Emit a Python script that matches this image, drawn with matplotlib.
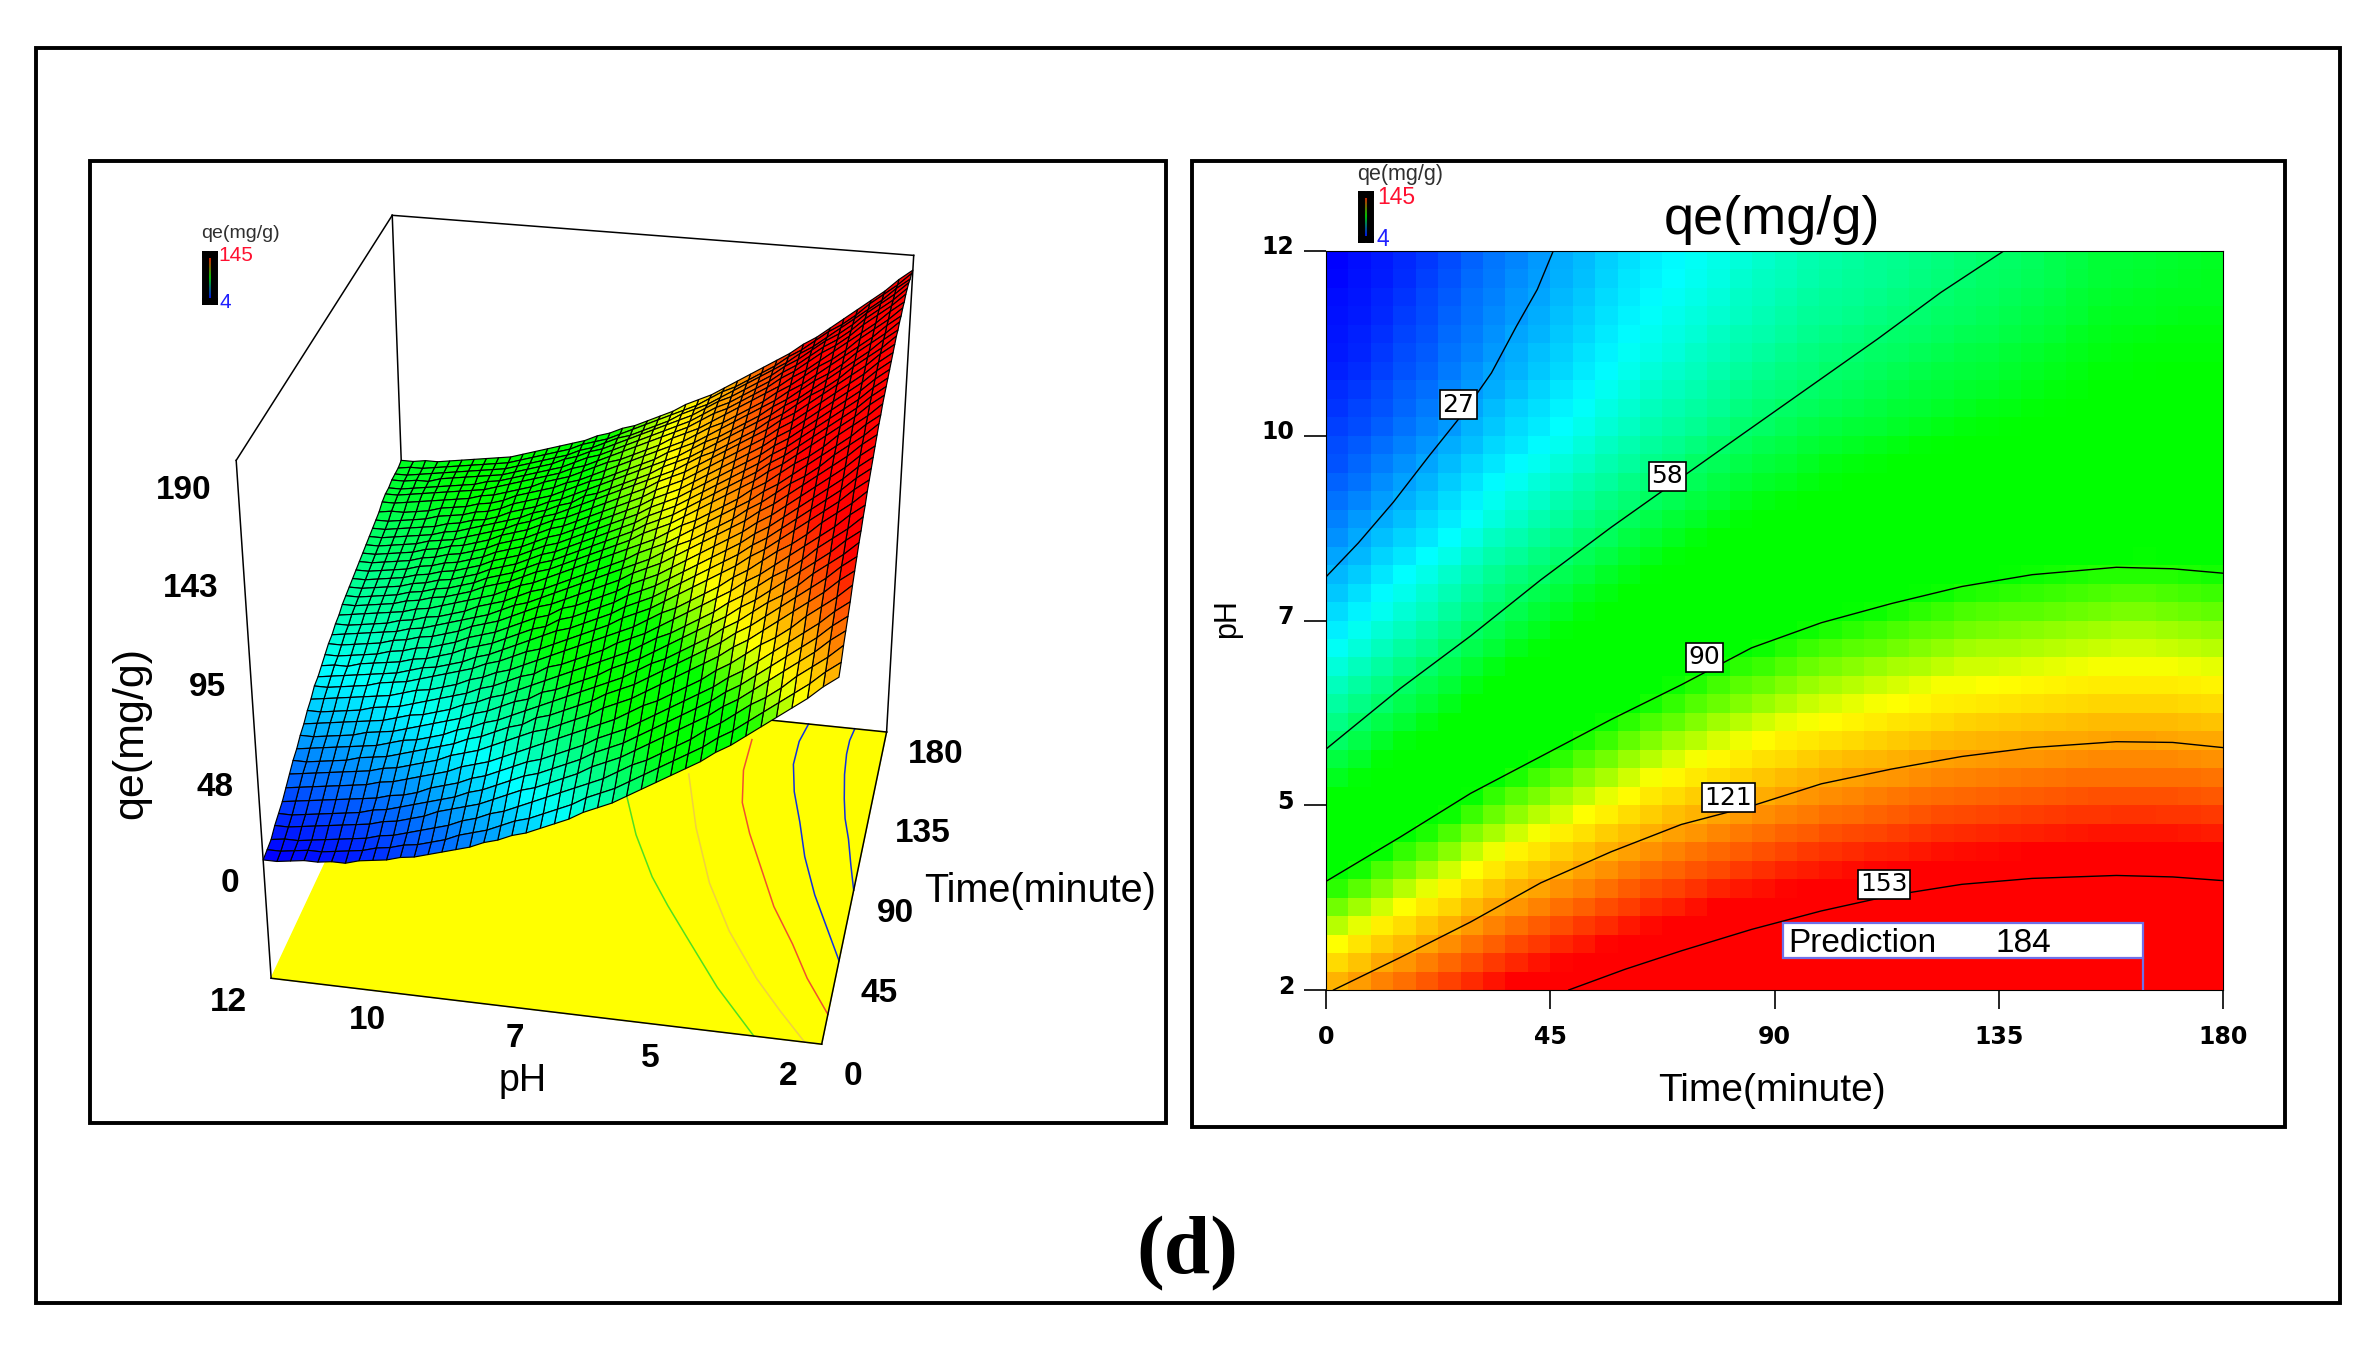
import numpy as np
import matplotlib
matplotlib.use('Agg')
import matplotlib.pyplot as plt
from matplotlib.collections import PolyCollection
from matplotlib.colors import LinearSegmentedColormap, Normalize
from matplotlib.patches import Rectangle
from matplotlib.transforms import ScaledTranslation

plt.rcParams['font.family'] = ['Liberation Sans', 'DejaVu Sans']

# Values
time_vals = [i * 4.5 for i in range(41)]
ph_vals = [2 + i * 0.25 for i in range(41)]

# one row per pH, one column per time
qe_rows = [
    [120,123,127,130,133,136,140,143,146,149,151,154,156,159,161,163,165,167,169,171,172,174,175,176,177,178,179,180,181,182,182,183,183,184,184,185,185,185,184,184,183],
    [115,118,121,125,128,131,134,138,141,143,146,148,151,153,156,158,160,162,164,165,167,168,170,171,172,173,174,175,176,176,177,177,178,178,179,179,179,179,179,178,178],
    [109,112,116,119,122,125,129,132,135,138,140,143,145,148,150,152,154,156,158,160,161,163,164,165,166,167,168,169,170,171,171,172,172,173,173,174,174,174,173,173,172],
    [104,107,111,114,117,120,124,127,130,133,135,138,140,143,145,147,149,151,153,155,156,158,159,160,161,162,163,164,165,166,166,167,167,168,168,169,169,169,168,168,167],
    [99,102,105,109,112,115,118,122,125,127,130,132,135,137,140,142,144,146,148,149,151,152,154,155,156,157,158,159,160,160,161,161,162,162,163,163,163,163,163,162,162],
    [94,97,100,104,107,110,113,117,120,122,125,127,130,132,135,137,139,141,143,144,146,147,149,150,151,152,153,154,155,155,156,156,157,157,158,158,158,158,158,157,157],
    [89,92,96,99,102,105,109,112,115,118,120,123,125,128,130,132,134,136,138,140,141,143,144,145,146,147,148,149,150,151,151,152,152,153,153,154,154,154,153,153,152],
    [84,87,91,94,97,100,104,107,110,113,115,118,120,123,125,127,129,131,133,135,136,138,139,140,141,142,143,144,145,146,146,147,147,148,148,149,149,149,148,148,147],
    [80,83,86,90,93,96,99,103,106,108,111,113,116,118,121,123,125,127,129,130,132,133,135,136,137,138,139,140,141,141,142,142,143,143,144,144,144,144,144,143,143],
    [75,78,82,85,88,91,95,98,101,104,106,109,111,114,116,118,120,122,124,126,127,129,130,131,132,133,134,135,136,137,137,138,138,139,139,140,140,140,139,139,138],
    [71,74,77,81,84,87,90,94,97,99,102,104,107,109,112,114,116,118,120,121,123,124,126,127,128,129,130,131,132,132,133,133,134,134,135,135,135,135,135,134,134],
    [67,70,73,77,80,83,86,90,93,95,98,100,103,105,108,110,112,114,116,117,119,120,122,123,124,125,126,127,128,128,129,129,130,130,131,131,131,131,131,130,130],
    [63,66,69,73,76,79,82,86,89,91,94,96,99,101,104,106,108,110,112,113,115,116,118,119,120,121,122,123,124,124,125,125,126,126,127,127,127,127,127,126,126],
    [59,62,65,69,72,75,78,82,85,87,90,92,95,97,100,102,104,106,108,109,111,112,114,115,116,117,118,119,120,120,121,121,122,122,123,123,123,123,123,122,122],
    [55,58,62,65,68,71,75,78,81,84,86,89,91,94,96,98,100,102,104,106,107,109,110,111,112,113,114,115,116,117,117,118,118,119,119,120,120,120,119,119,118],
    [51,54,58,61,64,67,71,74,77,80,82,85,87,90,92,94,96,98,100,102,103,105,106,107,108,109,110,111,112,113,113,114,114,115,115,116,116,116,115,115,114],
    [48,51,54,58,61,64,67,71,74,76,79,81,84,86,89,91,93,95,97,98,100,101,103,104,105,106,107,108,109,109,110,110,111,111,112,112,112,112,112,111,111],
    [45,48,51,55,58,61,64,68,71,73,76,78,81,83,86,88,90,92,94,95,97,98,100,101,102,103,104,105,106,106,107,107,108,108,109,109,109,109,109,108,108],
    [41,44,48,51,54,57,61,64,67,70,72,75,77,80,82,84,86,88,90,92,93,95,96,97,98,99,100,101,102,103,103,104,104,105,105,106,106,106,105,105,104],
    [38,41,45,48,51,54,58,61,64,67,69,72,74,77,79,81,83,85,87,89,90,92,93,94,95,96,97,98,99,100,100,101,101,102,102,103,103,103,102,102,101],
    [35,38,42,45,48,51,55,58,61,64,66,69,71,74,76,78,80,82,84,86,87,89,90,91,92,93,94,95,96,97,97,98,98,99,99,100,100,100,99,99,98],
    [32,35,39,42,45,48,52,55,58,61,63,66,68,71,73,75,77,79,81,83,84,86,87,88,89,90,91,92,93,94,94,95,95,96,96,97,97,97,96,96,95],
    [30,33,36,40,43,46,49,53,56,58,61,63,66,68,70,73,75,77,78,80,81,83,84,85,86,87,88,89,90,91,91,92,92,93,94,94,94,94,94,93,93],
    [27,30,33,37,40,43,46,50,52,55,57,60,62,65,67,70,71,73,75,77,78,80,81,82,83,84,85,86,87,88,89,89,90,90,91,91,91,91,91,90,90],
    [25,27,31,34,37,40,43,47,50,52,55,57,60,62,65,67,69,71,73,74,75,77,78,79,80,81,82,83,84,85,85,86,87,87,88,88,89,89,88,88,88],
    [22,25,28,31,34,37,40,44,47,49,52,54,57,59,62,64,66,68,70,71,73,74,76,77,78,79,80,81,82,82,83,83,84,85,85,86,86,86,86,86,85],
    [20,23,26,29,32,35,38,41,44,47,49,52,54,57,59,61,63,65,67,69,70,72,73,74,75,76,77,78,79,80,80,81,81,82,83,83,83,84,83,83,83],
    [18,20,23,27,29,32,36,39,42,44,47,49,52,54,57,58,60,62,64,66,67,69,70,71,72,73,74,75,76,77,78,78,79,80,81,81,81,81,81,81,81],
    [16,18,21,25,27,30,33,37,39,42,44,47,49,52,54,56,58,60,62,63,65,66,68,69,70,71,72,73,74,75,75,76,77,78,78,79,79,79,79,79,79],
    [14,16,19,22,25,28,31,34,37,39,42,44,47,49,52,53,56,58,60,61,63,64,66,67,68,69,70,71,72,72,73,74,75,76,76,77,77,77,77,77,77],
    [13,15,17,20,23,25,29,32,35,37,40,42,45,47,50,51,53,55,57,59,60,62,63,64,65,66,67,68,69,70,71,71,72,73,74,75,75,75,75,75,75],
    [11,13,15,18,21,23,27,30,33,35,38,40,43,45,48,49,51,53,55,57,58,60,61,62,63,64,65,66,67,68,69,69,70,71,72,73,73,73,73,73,73],
    [10,12,14,17,19,22,25,28,31,34,36,39,41,44,46,48,49,51,53,55,56,58,59,60,61,62,63,64,65,66,67,68,69,70,71,71,72,72,72,72,72],
    [9,10,12,15,18,20,24,27,29,32,34,37,39,42,44,46,48,50,52,53,55,56,58,59,60,61,62,63,64,64,65,66,67,68,69,70,70,71,71,71,71],
    [7,9,11,14,16,19,22,25,28,30,33,35,38,40,43,44,46,48,50,52,53,55,56,57,58,59,60,61,62,63,64,65,66,67,68,69,69,70,70,70,70],
    [7,8,10,13,15,18,21,24,27,29,32,34,37,39,42,43,45,47,49,50,52,53,55,56,57,58,59,60,61,62,62,63,65,66,67,68,68,69,69,69,69],
    [6,7,9,12,14,17,20,23,25,28,30,33,35,38,40,42,44,45,47,49,50,52,53,54,55,56,57,58,59,60,61,62,63,64,66,67,67,68,68,68,68],
    [6,7,8,11,13,16,19,22,24,27,29,32,34,37,39,41,43,44,46,48,49,51,52,53,54,55,56,57,58,59,60,61,62,63,65,66,66,66,67,67,67],
    [5,6,7,10,12,15,18,21,23,26,28,31,33,36,38,40,41,43,45,47,48,50,51,52,53,54,55,56,57,58,59,60,61,62,64,65,65,66,66,66,67],
    [4,5,7,9,11,14,17,20,22,25,27,30,32,35,37,39,41,42,44,46,47,49,50,51,52,53,54,55,56,57,58,59,60,62,63,64,64,65,65,66,66],
    [4,5,6,9,11,13,16,19,22,24,27,29,32,34,37,38,40,42,44,45,47,48,50,51,52,53,54,55,56,57,58,59,60,61,63,64,64,65,65,65,66],
]

c27_t = [0, 6.5, 13.5, 20.6, 27.6, 33.2, 38.2, 42.4, 45.6]
c27_ph = [7.59, 8.05, 8.6, 9.22, 9.81, 10.35, 10.98, 11.48, 12]
c58_t = [0, 14.9, 29, 43.1, 57.2, 68.5, 82.5, 96.6, 110.7, 123.4, 136]
c58_ph = [5.26, 6.08, 6.79, 7.55, 8.26, 8.8, 9.47, 10.14, 10.81, 11.44, 12]
c90_t = [0, 14.9, 29, 43.1, 57.2, 71.3, 85.4, 99.4, 113.5, 127.6, 141.7, 158.6, 169.9, 180]
c90_ph = [3.47, 4.07, 4.66, 5.16, 5.66, 6.13, 6.63, 6.97, 7.23, 7.46, 7.62, 7.72, 7.7, 7.64]
c121_t = [1.5, 14.9, 29, 43.1, 57.2, 71.3, 85.4, 99.4, 113.5, 127.6, 141.7, 158.6, 169.9, 180]
c121_ph = [2, 2.44, 2.92, 3.45, 3.87, 4.24, 4.49, 4.79, 4.99, 5.16, 5.28, 5.36, 5.35, 5.28]
c153_t = [48.7, 60, 71.3, 85.4, 99.4, 113.5, 127.6, 141.7, 158.6, 169.9, 180]
c153_ph = [2, 2.28, 2.53, 2.82, 3.07, 3.28, 3.43, 3.51, 3.55, 3.53, 3.48]

contour_lines = [(c27_t, c27_ph), (c58_t, c58_ph), (c90_t, c90_ph), (c121_t, c121_ph), (c153_t, c153_ph)]
contour_labels = ['27', '58', '90', '121', '153']
contour_label_t = [26.6, 68.5, 75.9, 80.7, 112]
contour_label_ph = [9.92, 8.95, 6.5, 4.6, 3.43]

# contours on the floor of the 3D plot
floor1_t = [0, 22, 45, 62, 77, 100, 124, 150]
floor1_ph = [3.2, 4.05, 4.8, 5.35, 5.8, 6.35, 6.8, 7.1]
floor2_t = [0, 14, 29, 52, 77, 108, 140]
floor2_ph = [2.3, 2.85, 3.4, 4.1, 4.7, 5.25, 5.7]
floor3_t = [15, 32, 49, 68, 88, 108, 126, 146, 166]
floor3_ph = [2, 2.5, 2.9, 3.4, 3.8, 4.2, 4.5, 4.65, 4.65]
floor4_t = [43, 60, 77, 98, 118, 136, 153, 168, 180]
floor4_ph = [2, 2.35, 2.7, 3.05, 3.3, 3.55, 3.7, 3.7, 3.6]
floor5_t = [82, 96, 111, 123, 135, 150, 163, 172, 180]
floor5_ph = [2, 2.15, 2.3, 2.45, 2.55, 2.65, 2.7, 2.7, 2.65]
floor_lines = [(floor1_t, floor1_ph, '#50e020'), (floor2_t, floor2_ph, '#f0d040'), (floor3_t, floor3_ph, '#f05030'),
               (floor4_t, floor4_ph, '#1030e0'), (floor5_t, floor5_ph, '#1030e0')]

time_ticks = [0, 45, 90, 135, 180]
ph_ticks = [2, 4.5, 7, 9.5, 12]
ph_tick_labels = ['2', '5', '7', '10', '12']
z_tick_labels = ['190', '143', '95', '48', '0']
pred_text = '184'

S = 2360 / 1568  # layout below was measured on the 1568 wide view

cmap = LinearSegmentedColormap.from_list('de', [(0, '#0000ff'), (0.255, '#00ffff'), (0.468, '#00ff00'), (0.61, '#00ff00'),
                                                (0.738, '#ffff00'), (1, '#ff0000')])
norm = Normalize(4, 145)

fig = plt.figure(figsize=(23.6, 13.45), dpi=100)
page = fig.add_axes([0, 0, 1, 1])
page.set_xlim(0, 2360)
page.set_ylim(1345, 0)
page.axis('off')


def frame(x0, y0, x1, y1):
    page.add_patch(Rectangle((x0 * S, y0 * S), (x1 - x0) * S, (y1 - y0) * S, fill=False, ec='black', lw=2.8, zorder=10))


frame(24, 32, 1555, 866)
frame(60, 107, 775, 746)
frame(792, 107, 1518, 749)
page.text(789 * S, 833 * S, '(d)', family='Liberation Serif', weight='bold', fontsize=60, ha='center', va='center')

# camera for the 3D plot, fitted on where the box corners sit in the picture
calib_world = [(0, 12, 190), (180, 12, 190), (180, 2, 190), (0, 12, -57), (0, 2, -57), (180, 2, -57), (180, 12, -57),
               (180, 12, 65), (180, 2, 184), (0, 12, 4), (0, 2, 118)]
calib_view = [(156, 308), (261, 142), (607, 171), (180, 648), (547, 696), (588, 484), (272, 458),
              (267, 305), (607, 178), (175, 570), (557, 452)]


def scaled(t, ph, z):
    return np.asarray(t, float) / 180, (np.asarray(ph, float) - 2) / 10, (np.asarray(z, float) + 57) / 247


rows = []
for (t, ph, z), (x, y) in zip(calib_world, calib_view):
    X, Y, Z = scaled(t, ph, z)
    rows.append([X, Y, Z, 1, 0, 0, 0, 0, -x * S / 1000 * X, -x * S / 1000 * Y, -x * S / 1000 * Z, -x * S / 1000])
    rows.append([0, 0, 0, 0, X, Y, Z, 1, -y * S / 1000 * X, -y * S / 1000 * Y, -y * S / 1000 * Z, -y * S / 1000])
cam = np.linalg.svd(np.array(rows))[2][-1].reshape(3, 4)


def project(t, ph, z):
    X, Y, Z = scaled(t, ph, z)
    h = cam[2, 0] * X + cam[2, 1] * Y + cam[2, 2] * Z + cam[2, 3]
    px = (cam[0, 0] * X + cam[0, 1] * Y + cam[0, 2] * Z + cam[0, 3]) / h
    py = (cam[1, 0] * X + cam[1, 1] * Y + cam[1, 2] * Z + cam[1, 3]) / h
    return px * 1000, py * 1000


ZF = -57
ZT = 190


def box_line(a, b):
    xa, ya = project(*a)
    xb, yb = project(*b)
    page.plot([xa, xb], [ya, yb], color='black', lw=1.1, zorder=2)


# floor
fx, fy = project([0, 0, 180, 180], [12, 2, 2, 12], [ZF] * 4)
page.fill(fx, fy, color='#ffff00', zorder=1)
for ft, fp, col in floor_lines:
    lx, ly = project(ft, fp, [ZF] * len(ft))
    page.plot(lx, ly, color=col, lw=1.1, zorder=2)
box_line((0, 12, ZF), (0, 2, ZF))
box_line((0, 2, ZF), (180, 2, ZF))
box_line((180, 2, ZF), (180, 12, ZF))
box_line((180, 12, ZT), (180, 12, 65))
box_line((0, 12, ZT), (180, 12, ZT))
box_line((180, 12, ZT), (180, 2, ZT))
box_line((180, 2, ZT), (180, 2, ZF))
box_line((0, 12, ZT), (0, 12, ZF))

# surface, back to front
qe = np.array(qe_rows, float)
cells = (qe[:-1, :-1] + qe[1:, :-1] + qe[:-1, 1:] + qe[1:, 1:]) / 4
T, P = np.meshgrid(time_vals, ph_vals)
sx, sy = project(T, P, qe)
polys = []
vals = []
for i in range(len(time_vals) - 2, -1, -1):
    for j in range(len(ph_vals) - 1):
        polys.append([(sx[j, i], sy[j, i]), (sx[j, i + 1], sy[j, i + 1]),
                      (sx[j + 1, i + 1], sy[j + 1, i + 1]), (sx[j + 1, i], sy[j + 1, i])])
        vals.append(cells[j, i])
mesh = PolyCollection(polys, array=np.array(vals), cmap=cmap, norm=norm, edgecolors='black', linewidths=0.85, zorder=3)
page.add_collection(mesh)

# text of the 3D plot
tx = [122, 127, 138, 143, 153]
ty = [326, 391, 457, 523, 587]
for lab, x, y in zip(z_tick_labels, tx, ty):
    page.text(x * S, y * S, lab, weight='bold', fontsize=24, ha='center', va='center')
tx = [152, 244, 342, 432, 524]
ty = [666, 678, 690, 703, 715]
for lab, x, y in zip(ph_tick_labels[::-1], tx, ty):
    page.text(x * S, y * S, lab, weight='bold', fontsize=24, ha='center', va='center')
tx = [567, 584, 595, 613, 622]
ty = [715, 660, 607, 554, 501]
for lab, x, y in zip(time_ticks, tx, ty):
    page.text(x * S, y * S, str(lab), weight='bold', fontsize=24, ha='center', va='center')
page.text(87 * S, 487 * S, 'qe(mg/g)', fontsize=31, rotation=90, ha='center', va='center')
page.text(347 * S, 718 * S, 'pH', fontsize=27, ha='center', va='center')
page.text(691 * S, 592 * S, 'Time(minute)', fontsize=28.5, ha='center', va='center')


def small_legend(bx0, by0, bx1, by1, name_xy, hi_xy, lo_xy, fs):
    w = fig.add_axes([bx0 * S / 2360, 1 - by1 * S / 1345, (bx1 - bx0) * S / 2360, (by1 - by0) * S / 1345])
    w.imshow(np.linspace(0, 1, 30).reshape(-1, 1), cmap=LinearSegmentedColormap.from_list('bar', ['#ff0000', '#00c000', '#0000ff']),
             aspect='auto')
    w.set_xticks([])
    w.set_yticks([])
    for sp in w.spines.values():
        sp.set_linewidth(5)
    page.text(name_xy[0] * S, name_xy[1] * S, 'qe(mg/g)', fontsize=fs, ha='center', va='center', color='#303030')
    page.text(hi_xy[0] * S, hi_xy[1] * S, '145', fontsize=fs + 1, ha='center', va='center', color='#ff1030')
    page.text(lo_xy[0] * S, lo_xy[1] * S, '4', fontsize=fs + 1, ha='center', va='center', color='#2020ff')


small_legend(136, 169, 142, 200, (160, 155), (157, 170), (150, 201), 14)
small_legend(904, 129, 910, 159, (930, 116), (928, 131), (919, 159), 15.5)

# heat map panel
ax = fig.add_axes([1326 / 2360, 1 - 990 / 1345, (2223 - 1326) / 2360, (990 - 251) / 1345])
ax.pcolormesh(time_vals, ph_vals, cells, cmap=cmap, norm=norm, shading='flat', antialiased=False)
for (ct, cp) in contour_lines:
    ax.plot(ct, cp, color='black', lw=1.0)
for lab, t, p in zip(contour_labels, contour_label_t, contour_label_ph):
    ax.text(t, p, lab, family='DejaVu Sans', fontsize=18, ha='center', va='center',
            bbox=dict(boxstyle='square,pad=0.1', fc='white', ec='black', lw=1.2))
ax.set_xlim(0, 180)
ax.set_ylim(2, 12)
ax.set_xticks(time_ticks)
ax.set_yticks(ph_ticks)
ax.set_yticklabels(ph_tick_labels)
ax.tick_params(axis='x', length=14, width=1.2, pad=11)
ax.tick_params(axis='y', length=16, width=1.2, pad=7)
up = ScaledTranslation(0, 6 / 100, fig.dpi_scale_trans)
for lab in ax.get_xticklabels() + ax.get_yticklabels():
    lab.set_fontweight('bold')
    lab.set_family('DejaVu Sans')
    lab.set_fontsize(17)
for lab in ax.get_yticklabels():
    lab.set_transform(lab.get_transform() + up)
for side in ['top', 'right']:
    ax.spines[side].set_linewidth(0.8)
ax.add_patch(Rectangle((91.8, 2.43), 72.2, 0.47, fc='white', ec='#7070e8', lw=1.6, zorder=5))
ax.plot([164, 164], [2, 2.43], color='#7070e8', lw=1.6, zorder=5)
ax.text(92.8, 2.63, 'Prediction', fontsize=24, va='center', zorder=6)
ax.text(140, 2.63, pred_text, fontsize=24, ha='center', va='center', zorder=6)
page.text(1177 * S, 146 * S, 'qe(mg/g)', fontsize=39, ha='center', va='center')
page.text(1177 * S, 725 * S, 'Time(minute)', fontsize=28, ha='center', va='center')
page.text(815 * S, 411 * S, 'pH', fontsize=22, rotation=90, ha='center', va='center')

fig.savefig('out.png', dpi=100)
